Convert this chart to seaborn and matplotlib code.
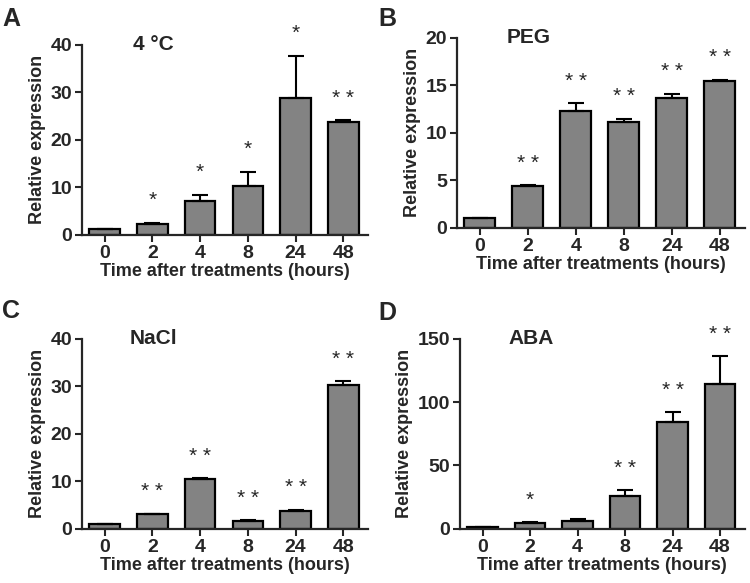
import numpy as np
import pandas as pd
import matplotlib
matplotlib.use('Agg')
import matplotlib.pyplot as plt
import seaborn as sns

sns.set_style('ticks')
plt.rcParams['font.family'] = ['Liberation Sans', 'DejaVu Sans']
plt.rcParams['font.weight'] = 'bold'

hours = ['0', '2', '4', '8', '24', '48']

# panel A, 4 °C
cold_mean = [1.2, 2.3, 7.1, 10.4, 28.9, 23.8]
cold_err = [0.15, 0.3, 1.4, 2.9, 8.8, 0.3]
cold_sig = ['', '*', '*', '*', '*', '**']

# panel B, PEG
peg_mean = [1.0, 4.45, 12.3, 11.1, 13.7, 15.5]
peg_err = [0.05, 0.05, 0.8, 0.4, 0.4, 0.1]
peg_sig = ['', '**', '**', '**', '**', '**']

# panel C, NaCl
nacl_mean = [1.0, 3.1, 10.4, 1.7, 3.8, 30.2]
nacl_err = [0.05, 0.1, 0.2, 0.1, 0.2, 0.8]
nacl_sig = ['', '**', '**', '**', '**', '**']

# panel D, ABA
aba_mean = [1.2, 4.2, 6.0, 26.0, 84.5, 114.5]
aba_err = [0.4, 0.8, 1.8, 4.5, 7.5, 21.5]
aba_sig = ['', '*', '', '**', '**', '**']

panels = [
    ('A', '4 °C', cold_mean, cold_err, cold_sig, 40, [0, 10, 20, 30, 40], [0.109, 0.597, 0.382, 0.326]),
    ('B', 'PEG', peg_mean, peg_err, peg_sig, 20, [0, 5, 10, 15, 20], [0.609, 0.609, 0.384, 0.326]),
    ('C', 'NaCl', nacl_mean, nacl_err, nacl_sig, 40, [0, 10, 20, 30, 40], [0.109, 0.093, 0.382, 0.326]),
    ('D', 'ABA', aba_mean, aba_err, aba_sig, 150, [0, 50, 100, 150], [0.613, 0.093, 0.380, 0.326]),
]
letter_pos = {'A': (0.003, 0.988), 'B': (0.505, 0.988), 'C': (0.003, 0.487), 'D': (0.505, 0.483)}

fig = plt.figure(figsize=(7.5, 5.83), dpi=100)

for letter, title, mean, err, sig, ymax, yticks, rect in panels:
    ax = fig.add_axes(rect)
    df = pd.DataFrame({'hour': hours, 'expr': mean})
    sns.barplot(data=df, x='hour', y='expr', order=hours, color='#838383',
                saturation=1, width=0.64, edgecolor='black', linewidth=1.6,
                errorbar=None, ax=ax)
    ax.errorbar(np.arange(len(hours)), mean, yerr=[np.zeros(len(err)), err],
                fmt='none', ecolor='black', elinewidth=1.5, capsize=6, capthick=1.5,
                zorder=1)
    for i, s in enumerate(sig):
        if s:
            ax.annotate(s.replace('**', '* *'), (i, mean[i] + err[i]), xytext=(0, 9),
                        textcoords='offset points', ha='center', va='bottom',
                        fontsize=15, fontweight='normal')
    ax.set_xlim(-0.48, 5.52)
    ax.set_ylim(0, ymax)
    ax.set_yticks(yticks)
    ax.set_xlabel('Time after treatments (hours)', fontsize=13, fontweight='bold', labelpad=1)
    ax.set_ylabel('Relative expression', fontsize=13, fontweight='bold', labelpad=3)
    ax.tick_params(axis='both', labelsize=14, width=1.5, length=5, pad=2)
    for lab in ax.get_xticklabels() + ax.get_yticklabels():
        lab.set_fontweight('bold')
    for sp in ['left', 'bottom']:
        ax.spines[sp].set_linewidth(1.6)
    sns.despine(ax=ax)
    ax.text(0.25, 1.0, title, transform=ax.transAxes, ha='center', va='center',
            fontsize=15, fontweight='bold')
    fig.text(letter_pos[letter][0], letter_pos[letter][1], letter, ha='left', va='top',
             fontsize=18, fontweight='bold')

fig.savefig('out.png', dpi=100)
